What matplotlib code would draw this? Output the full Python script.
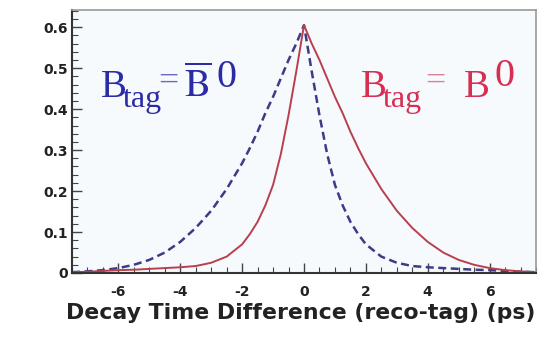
import matplotlib.pyplot as plt
from matplotlib.ticker import MultipleLocator

# decay time difference (ps) and the two tagged distributions
dt = [-7.5, -7, -6.5, -6, -5.5, -5, -4.5, -4, -3.5, -3, -2.5, -2, -1.75, -1.5,
      -1.25, -1, -0.75, -0.5, -0.25, 0, 0.25, 0.5, 0.75, 1, 1.25, 1.5, 1.75, 2,
      2.5, 3, 3.5, 4, 4.5, 5, 5.5, 6, 6.5, 7, 7.5]
b0_tag = [0.002, 0.003, 0.005, 0.007, 0.008, 0.010, 0.012, 0.014, 0.017, 0.025,
          0.040, 0.070, 0.095, 0.125, 0.165, 0.215, 0.290, 0.385, 0.492, 0.605,
          0.560, 0.520, 0.475, 0.430, 0.390, 0.345, 0.305, 0.268, 0.205, 0.152,
          0.110, 0.076, 0.050, 0.032, 0.020, 0.012, 0.007, 0.004, 0.002]
b0bar_tag = [0.002, 0.004, 0.007, 0.012, 0.020, 0.032, 0.050, 0.076, 0.110, 0.152,
             0.205, 0.268, 0.305, 0.345, 0.390, 0.430, 0.475, 0.520, 0.560, 0.605,
             0.492, 0.385, 0.290, 0.215, 0.165, 0.125, 0.095, 0.070, 0.040, 0.025,
             0.017, 0.014, 0.012, 0.010, 0.008, 0.007, 0.005, 0.003, 0.002]

plt.rcParams['mathtext.fontset'] = 'stix'
plt.rcParams['axes.unicode_minus'] = False

W, H = 549, 337
fig = plt.figure(figsize=(W / 100, H / 100), dpi=100)
ax = fig.add_axes([72 / W, 1 - 273 / H, 464 / W, 263 / H])
ax.set_facecolor('#f7fafc')

ax.plot(dt, b0bar_tag, color='#3c3c86', lw=1.8, ls=(0, (3.2, 1.8)))
ax.plot(dt, b0_tag, color='#b8404e', lw=1.4)

ax.set_xlim(-7.5, 7.5)
ax.set_ylim(0, 0.642)
ax.xaxis.set_major_locator(MultipleLocator(2))
ax.xaxis.set_minor_locator(MultipleLocator(0.5))
ax.yaxis.set_minor_locator(MultipleLocator(0.02))
ax.set_yticks([0, 0.1, 0.2, 0.3, 0.4, 0.5, 0.6])
ax.set_yticklabels(['0', '0.1', '0.2', '0.3', '0.4', '0.5', '0.6'])
ax.tick_params(which='both', direction='in', top=False, right=False,
               colors='#444444', labelcolor='#222222')
ax.tick_params(which='major', length=7, width=1)
ax.tick_params(which='minor', length=4, width=0.8)
ax.tick_params(axis='x', pad=9)
ax.tick_params(axis='y', pad=3)
for lab in ax.get_xticklabels() + ax.get_yticklabels():
    lab.set_fontfamily('DejaVu Sans')
    lab.set_fontweight('bold')
    lab.set_fontsize(10)

for side in ['left', 'bottom']:
    ax.spines[side].set_color('#333333')
    ax.spines[side].set_linewidth(1.5)
for side in ['top', 'right']:
    ax.spines[side].set_color('#999999')
    ax.spines[side].set_linewidth(1.2)

fig.text(535 / W, 1 - 313 / H, 'Decay Time Difference (reco-tag) (ps)',
         fontsize=15.8, fontweight='bold', family='DejaVu Sans', color='#222222',
         ha='right', va='center')


def label(x, y, s, size, color, **kw):
    # place a piece of the annotation at pixel position (x, baseline y)
    fig.text(x / W, 1 - y / H, s, fontsize=size, color=color,
             family='Liberation Serif', ha='left', va='baseline', **kw)


blue = '#2b2ba6'
label(101, 97, 'B', 28, blue)
label(123, 107, 'tag', 23, blue)
label(158, 91, '=', 26, '#6a6ab8')
label(184, 97, r'$\overline{\mathrm{B}}$', 28, blue)
label(216, 87, '0', 29, blue)

red = '#d62f52'
label(361, 97, 'B', 28, red)
label(383, 107, 'tag', 23, red)
label(425, 91, '=', 26, '#d8809a')
label(464, 97, 'B', 28, red)
label(494, 86, '0', 29, red)

fig.savefig('out.png', dpi=100)
